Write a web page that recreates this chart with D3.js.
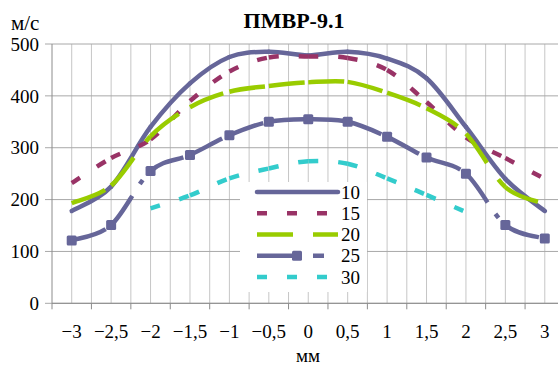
<!DOCTYPE html>
<html>
<head>
<meta charset="utf-8">
<script src="https://cdn.jsdelivr.net/npm/d3@7"></script>
<style>
  body { margin: 0; background: #fff; }
</style>
</head>
<body>
<div id="chart"></div>
<script>
// chart values
var categories = [-3, -2.5, -2, -1.5, -1, -0.5, 0, 0.5, 1, 1.5, 2, 2.5, 3];
var tickLabels = ["\u22123", "\u22122,5", "\u22122", "\u22121,5", "\u22121", "\u22120,5", "0", "0,5", "1", "1,5", "2", "2,5", "3"];
var yTicks = [0, 100, 200, 300, 400, 500];
var seriesNames = ["10", "15", "20", "25", "30"];
var s10 = [178, 225, 340, 424, 475, 485, 478, 485, 472, 434, 340, 240, 178];
var s15 = [232, 280, 316, 390, 447, 474, 476, 473, 450, 388, 320, 280, 240];
var s20 = [193, 227, 322, 378, 408, 419, 426, 427, 406, 376, 327, 224, 192];
var s25 = [121, 151, 255, 286, 324, 350, 355, 350, 321, 281, 250, 151, 125];
var s30 = [null, null, 183, 208, 241, 260, 274, 269, 241, 209, 176, null, null];

var width = 558, height = 365;
var serif = 'Liberation Serif';
var colors = ["#666699", "#993366", "#99cc00", "#666699", "#33cccc"];
var dashes = [null, "10,20", "36,20", "36,14,5,14", "10,20"];
var legendDashes = [null, "10,20", "36,20", "42,14,11", "10,20"];
var allSeries = [s10, s15, s20, s25, s30];

var svg = d3.select('#chart').append('svg')
    .attr('width', width)
    .attr('height', height);

var x = d3.scaleBand().domain(categories).range([52, 564.5]);
var cx = function(c) { return x(c) + x.bandwidth() / 2; };
var y = d3.scaleLinear().domain([0, 500]).range([303.3, 44]);

// vertical grid: category boundaries and centres
var vlines = [];
categories.forEach(function(c) { vlines.push(x(c)); vlines.push(cx(c)); });
vlines.push(x(categories[categories.length - 1]) + x.bandwidth());
svg.append('g').selectAll('line').data(vlines.slice(1)).enter().append('line')
    .attr('x1', function(d) { return d; })
    .attr('x2', function(d) { return d; })
    .attr('y1', y(500))
    .attr('y2', y(0))
    .style('stroke', '#c6c6c6')
    .style('stroke-width', 1);

// horizontal grid + y ticks
svg.append('g').selectAll('line').data(yTicks).enter().append('line')
    .attr('x1', 45)
    .attr('x2', 565)
    .attr('y1', function(d) { return y(d); })
    .attr('y2', function(d) { return y(d); })
    .style('stroke', '#a8a8a8')
    .style('stroke-width', 1);

// axes
svg.append('line').attr('x1', 52).attr('x2', 52).attr('y1', y(500)).attr('y2', y(0))
    .style('stroke', '#8c8c8c');
svg.append('line').attr('x1', 52).attr('x2', 565).attr('y1', y(0)).attr('y2', y(0))
    .style('stroke', '#8c8c8c');
svg.append('g').selectAll('line').data(categories).enter().append('line')
    .attr('x1', function(c) { return x(c); })
    .attr('x2', function(c) { return x(c); })
    .attr('y1', y(0))
    .attr('y2', y(0) + 6)
    .style('stroke', '#8c8c8c');
svg.append('line')
    .attr('x1', x(3) + x.bandwidth()).attr('x2', x(3) + x.bandwidth())
    .attr('y1', y(0)).attr('y2', y(0) + 6)
    .style('stroke', '#8c8c8c');

// tick labels
svg.append('g').selectAll('text').data(yTicks).enter().append('text')
    .attr('x', 39)
    .attr('y', function(d) { return y(d); })
    .attr('dy', '0.35em')
    .attr('text-anchor', 'end')
    .style('font-family', serif)
    .style('font-size', '19px')
    .text(function(d) { return d; });
svg.append('g').selectAll('text').data(categories).enter().append('text')
    .attr('x', function(c) { return cx(c); })
    .attr('y', 338)
    .attr('text-anchor', 'middle')
    .style('font-family', serif)
    .style('font-size', '19px')
    .text(function(c, i) { return tickLabels[i]; });

// titles
svg.append('text').attr('x', 294).attr('y', 28).attr('text-anchor', 'middle')
    .style('font-family', serif)
    .style('font-size', '22px').style('font-weight', 'bold').text('ПМВР-9.1');
svg.append('text').attr('x', 11).attr('y', 30)
    .style('font-family', serif)
    .style('font-size', '21px').text('м/с');
svg.append('text').attr('x', 308).attr('y', 362).attr('text-anchor', 'middle')
    .style('font-family', serif)
    .style('font-size', '19px').text('мм');

// smoothed segments, one path each so the dash restarts at every point
var segments = function(vals) {
    var pts = vals.map(function(v, i) { return v == null ? null : [cx(categories[i]), y(v)]; });
    var out = [];
    for (var i = 0; i < pts.length - 1; i++) {
        if (!pts[i] || !pts[i + 1]) continue;
        var p0 = pts[i - 1] || pts[i], p1 = pts[i], p2 = pts[i + 1], p3 = pts[i + 2] || pts[i + 1];
        var p = d3.path();
        p.moveTo(p1[0], p1[1]);
        p.bezierCurveTo(p1[0] + (p2[0] - p0[0]) / 6, p1[1] + (p2[1] - p0[1]) / 6,
                        p2[0] - (p3[0] - p1[0]) / 6, p2[1] - (p3[1] - p1[1]) / 6,
                        p2[0], p2[1]);
        out.push(p.toString());
    }
    return out;
};

allSeries.forEach(function(vals, k) {
    var g = svg.append('g');
    g.selectAll('path').data(segments(vals)).enter().append('path')
        .attr('d', function(d) { return d; })
        .style('fill', 'none')
        .style('stroke', colors[k])
        .style('stroke-width', 4.5)
        .style('stroke-linecap', k == 0 ? 'round' : 'butt')
        .style('stroke-dasharray', dashes[k]);
    if (k == 3) {
        g.selectAll('rect').data(vals).enter().append('rect')
            .attr('x', function(v, i) { return cx(categories[i]) - 5; })
            .attr('y', function(v) { return y(v) - 5; })
            .attr('width', 10).attr('height', 10).attr('rx', 1.5)
            .style('fill', colors[k]);
    }
});

// legend
var legend = svg.append('g');
legend.append('rect').attr('x', 240).attr('y', 182).attr('width', 127).attr('height', 110)
    .style('fill', '#fff');
var rowY = d3.scalePoint().domain(seriesNames).range([192, 277]);
seriesNames.forEach(function(name, k) {
    legend.append('line')
        .attr('x1', 257).attr('x2', 338)
        .attr('y1', rowY(name)).attr('y2', rowY(name))
        .style('stroke', colors[k])
        .style('stroke-width', 4.5)
        .style('stroke-linecap', k == 0 ? 'round' : 'butt')
        .style('stroke-dasharray', legendDashes[k]);
    if (k == 3) {
        legend.append('rect').attr('x', 292).attr('y', rowY(name) - 5)
            .attr('width', 10).attr('height', 10).attr('rx', 1.5)
            .style('fill', colors[k]);
    }
    legend.append('text')
        .attr('x', 341).attr('y', rowY(name)).attr('dy', '0.35em')
        .style('font-family', serif)
        .style('font-size', '19px')
        .text(name);
});
</script>
</body>
</html>
